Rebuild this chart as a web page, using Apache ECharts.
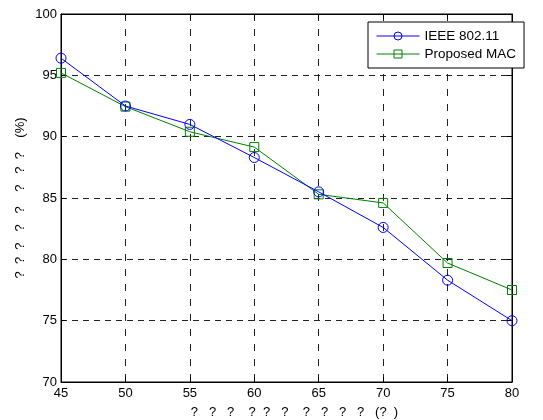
<!DOCTYPE html>
<html><head><meta charset="utf-8">
<script src="https://cdn.jsdelivr.net/npm/echarts@6/dist/echarts.min.js"></script>
<style>html,body{margin:0;padding:0;background:#fff}#c{width:543px;height:420px}</style>
</head><body><div id="c"></div>
<script>
const xValues = [45, 50, 55, 60, 65, 70, 75, 80];
const ieee = [96.4, 92.5, 91.0, 88.3, 85.5, 82.6, 78.3, 75.0];
const proposed = [95.2, 92.45, 90.4, 89.15, 85.3, 84.6, 79.7, 77.5];
const seriesNames = ['IEEE 802.11', 'Proposed MAC'];
const xLabel = '?   ?   ?    ?  ?   ?    ?   ?   ?   ?   (?  )';
const yLabel = '?  ?  ?   ?   ?    ?   ?  ?    (%)';

const font = 'Liberation Sans, Arial, sans-serif';
const chart = echarts.init(document.getElementById('c'));
chart.setOption({
  animation: false,
  backgroundColor: '#fff',
  grid: {left: 61, top: 14, width: 451, height: 368, outerBoundsMode: 'none', containLabel: false,
    show: true, borderColor: '#000', borderWidth: 1},
  legend: {
    orient: 'vertical', left: 368, top: 22,
    backgroundColor: '#fff', borderColor: '#000', borderWidth: 1,
    padding: [7, 8, 7, 8], itemGap: 4, itemWidth: 43, itemHeight: 10,
    textStyle: {fontFamily: font, fontSize: 13.5, color: '#000'},
    itemStyle: {borderWidth: 1, color: 'rgba(0,0,0,0)'},
    lineStyle: {width: 1},
    data: seriesNames
  },
  xAxis: [{
    type: 'value', min: 45, max: 80, interval: 5,
    name: xLabel, nameLocation: 'middle', nameGap: 24, nameMoveOverlap: false,
    nameTextStyle: {fontFamily: font, fontSize: 13, color: '#000', padding: [0, 0, 0, 16]},
    axisLine: {show: true, lineStyle: {color: '#000', width: 1}},
    axisTick: {inside: true, length: 5, lineStyle: {color: '#000'}},
    axisLabel: {fontFamily: font, fontSize: 13, color: '#000', margin: 5},
    splitLine: {show: true, lineStyle: {color: '#222', type: [7, 8], width: 1}}
  }, {
    type: 'value', min: 45, max: 80, interval: 5, position: 'top',
    axisLine: {show: true, lineStyle: {color: '#000'}},
    axisTick: {inside: true, length: 5, lineStyle: {color: '#000'}},
    axisLabel: {show: false}, splitLine: {show: false}
  }],
  yAxis: [{
    type: 'value', min: 70, max: 100, interval: 5,
    name: yLabel, nameLocation: 'middle', nameGap: 34, nameRotate: 90, nameMoveOverlap: false,
    nameTextStyle: {fontFamily: font, fontSize: 13, color: '#000'},
    axisLine: {show: true, lineStyle: {color: '#000', width: 1}},
    axisTick: {inside: true, length: 5, lineStyle: {color: '#000'}},
    axisLabel: {fontFamily: font, fontSize: 13, color: '#000', margin: 4},
    splitLine: {show: true, lineStyle: {color: '#222', type: [6, 5], width: 1}}
  }, {
    type: 'value', min: 70, max: 100, interval: 5, position: 'right',
    axisLine: {show: true, lineStyle: {color: '#000'}},
    axisTick: {inside: true, length: 5, lineStyle: {color: '#000'}},
    axisLabel: {show: false}, splitLine: {show: false}
  }],
  series: [{
    name: seriesNames[0], type: 'line',
    data: xValues.map((x, i) => [x, ieee[i]]),
    symbol: 'circle', symbolSize: 10,
    lineStyle: {color: '#0000ff', width: 1},
    itemStyle: {color: 'rgba(0,0,0,0)', borderColor: '#0000ff', borderWidth: 1},
    z: 3
  }, {
    name: seriesNames[1], type: 'line',
    data: xValues.map((x, i) => [x, proposed[i]]),
    symbol: 'rect', symbolSize: 9,
    lineStyle: {color: '#008000', width: 1},
    itemStyle: {color: 'rgba(0,0,0,0)', borderColor: '#008000', borderWidth: 1},
    z: 2
  }]
});
</script></body></html>
